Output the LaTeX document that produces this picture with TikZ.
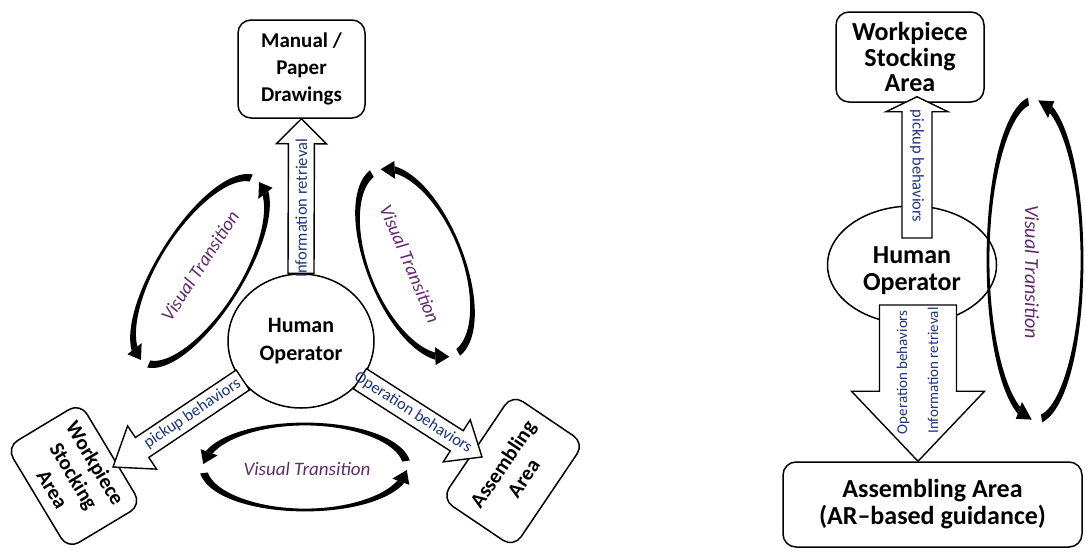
\documentclass[tikz,border=0pt]{standalone}
\usepackage{fontspec}
\setmainfont{Carlito}
\usetikzlibrary{calc,shapes.geometric}

\definecolor{vtpurple}{RGB}{98,42,108}
\definecolor{lblblue}{RGB}{28,54,122}

\newcommand\fsz[2]{\fontsize{#1}{#2}\selectfont}

\tikzset{
  areabox/.style={draw, line width=1.5pt, rounded corners=13pt, align=center,
    inner sep=0pt, fill=white},
  opnode/.style={draw, line width=1.5pt, ellipse, align=center, inner sep=0pt, fill=white},
  blockarr/.style={draw, line width=1.4pt, fill=white, line join=miter},
  flowlbl/.style={text=lblblue, inner sep=0pt, font=\fsz{16.5}{18}},
  vtlbl/.style={text=vtpurple, inner sep=0pt, font=\fsz{19}{22}\itshape},
  declare function={vtt(\q)=2.8+5*cos(\q)*cos(\q);},
}

% block arrow from #1 to #2: shaft half width #3, head half width #4, head length #5
\newcommand\blockarrow[5]{%
  \coordinate (ba-h) at ($(#2)!#5!(#1)$);
  \draw[blockarr]
    ($(#1)!#3!90:(#2)$) -- ($(ba-h)!#3!90:(#2)$) -- ($(ba-h)!#4!90:(#2)$)
    -- (#2)
    -- ($(ba-h)!#4!-90:(#2)$) -- ($(ba-h)!#3!-90:(#2)$) -- ($(#1)!#3!-90:(#2)$)
    -- cycle;
}

% tapered elliptic arc: semi-axes #1,#2, tail angle #3, end angle #4, tip angle #5
\newcommand\vtarc[5]{%
  \fill plot[variable=\u, domain=0:1, samples=36, smooth]
      ({(#1+0.5*vtt((#3)+((#4)-(#3))*\u))*cos((#3)+((#4)-(#3))*\u)},
       {(#2+0.5*vtt((#3)+((#4)-(#3))*\u))*sin((#3)+((#4)-(#3))*\u)})
    -- plot[variable=\u, domain=0:1, samples=36, smooth]
      ({(#1-0.5*vtt((#4)+((#3)-(#4))*\u))*cos((#4)+((#3)-(#4))*\u)},
       {(#2-0.5*vtt((#4)+((#3)-(#4))*\u))*sin((#4)+((#3)-(#4))*\u)})
    -- cycle;
  \fill ({(#1+9)*cos(#4)},{(#2+9)*sin(#4)})
     -- ({#1*cos(#5)},{#2*sin(#5)})
     -- ({(#1-9)*cos(#4)},{(#2-9)*sin(#4)}) -- cycle;
}

% cyclic pair of curved arrows around an ellipse: centre #1,#2, rotation #3, semi-axes #4,#5
\newcommand\vtloop[5]{%
  \begin{scope}[shift={(#1,#2)}, rotate=#3]
    \vtarc{#4}{#5}{-8}{-160}{-176}
    \vtarc{#4}{#5}{172}{20}{4}
  \end{scope}}

\begin{document}
\begin{tikzpicture}[x=1pt, y=-1pt]
\useasboundingbox (0,0) rectangle (1086,554);
\fill[white] (0,0) rectangle (1086,554);

% ---------------- left: three work areas ----------------
\node[opnode, minimum width=146pt, minimum height=134pt, font=\fsz{22}{28}\bfseries]
  (ho) at (301,341) {Human\\Operator};
\node[areabox, minimum width=127pt, minimum height=98pt, font=\fsz{21}{27}\bfseries]
  (man) at (301.5,69) {Manual /\\Paper\\Drawings};
\node[areabox, rotate=-59, minimum width=119pt, minimum height=86pt, font=\fsz{21}{25}\bfseries]
  (wsa) at (74,476) {Workpiece\\Stocking\\Area};
\node[areabox, rotate=56, minimum width=126pt, minimum height=87pt, font=\fsz{21}{25}\bfseries]
  (asm) at (513,471) {Assembling\\Area};

% information retrieval
\blockarrow{ho.north}{man.south}{13pt}{25pt}{25pt}
\path (ho.north) -- (ba-h) node[flowlbl, midway, sloped] (irl) {Information retrieval};

% pickup behaviors
\coordinate (pu1t) at ($(wsa.center)+(39,-9)$);
\coordinate (pu1s) at ($(ho.center)!70pt!(pu1t)$);
\blockarrow{pu1s}{pu1t}{12pt}{26pt}{35pt}
\path (pu1s) -- (ba-h) node[flowlbl, pos=0.5, sloped] (pbl) {pickup behaviors};

% operation behaviors
\coordinate (op1t) at ($(asm.center)+(-31,-14)$);
\coordinate (op1s) at ($(ho.center)!70pt!(op1t)$);
\blockarrow{op1s}{op1t}{12pt}{25pt}{30pt}
\path (op1s) -- (ba-h) node[flowlbl, pos=0.55, sloped] (obl) {Operation behaviors};

% visual transitions
\vtloop{200}{271}{58}{107}{42}
\node[vtlbl, rotate=57] (vt1) at (200,266) {Visual Transition};
\vtloop{415}{263}{112}{100}{47}
\node[vtlbl, rotate=-67] (vt2) at (410,264) {Visual Transition};
\vtloop{305}{467}{0}{102}{43}
\node[vtlbl] (vt3) at (307,469) {Visual Transition};

% ---------------- right: AR-guided assembly ----------------
\node[opnode, minimum width=169pt, minimum height=118pt] (hob) at (912,265) {};
\node[areabox, minimum width=148pt, minimum height=90pt, font=\fsz{26}{25.5}\bfseries]
  (wsb) at (910,57) {Workpiece\\Stocking\\Area};
\node[areabox, minimum width=299pt, minimum height=85pt, font=\fsz{26}{27}\bfseries]
  (asb) at (932.5,504.5) {Assembling Area\\(AR--based guidance)};

\coordinate (pu2s) at ($(hob.center)+(5,-27)$);
\coordinate (pu2t) at ($(wsb.south)+(7,-6)$);
\blockarrow{pu2s}{pu2t}{15pt}{31pt}{15pt}
\path (pu2s) -- (ba-h) node[flowlbl, pos=0.57, rotate=-90] (pbr) {pickup behaviors};

\coordinate (op2s) at ($(hob.center)+(6,40)$);
\coordinate (op2t) at ($(asb.north)+(-14.5,0)$);
\blockarrow{op2s}{op2t}{38.5pt}{66.5pt}{70pt}
\node[flowlbl, font=\fsz{15}{17}, rotate=90] (obr) at ($(op2s)!0.43!(op2t)+(-15,0)$) {Operation behaviors};
\node[flowlbl, font=\fsz{15}{17}, rotate=90] (irr) at ($(op2s)!0.42!(op2t)+(15,0)$) {Information retrieval};

\node[font=\fsz{26}{27}\bfseries, align=center, inner sep=0pt] (hobt) at (912,271) {Human\\Operator};

\vtloop{1035}{260}{90}{160}{47}
\node[vtlbl, font=\fsz{20}{22}\itshape, rotate=-90] (vt4) at (1032,272) {Visual Transition};
\end{tikzpicture}
\end{document}
